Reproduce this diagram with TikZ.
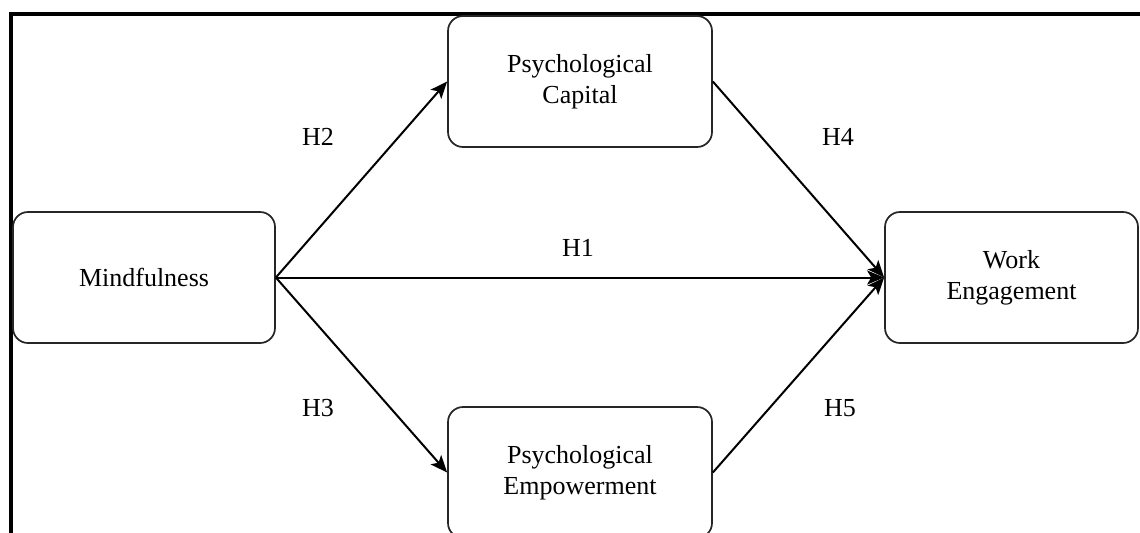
\documentclass[tikz,border=0pt]{standalone}
\usepackage{fontspec}
\setmainfont{Liberation Serif}
\usetikzlibrary{arrows.meta}
\tikzset{
  box/.style={draw=black!85, line width=0.85pt, rounded corners=7.5pt, align=center,
    font=\fontsize{13pt}{15.5pt}\selectfont, inner sep=0pt},
  conn/.style={draw=black, line width=1pt, -{Stealth[length=8.5pt,width=7pt,inset=2pt]}},
  hyp/.style={font=\fontsize{13pt}{15.5pt}\selectfont, inner sep=0pt},
  frame/.style={line width=1.6pt}
}
\begin{document}
\begin{tikzpicture}[x=0.5pt,y=-0.5pt]
\useasboundingbox (0,0) rectangle (1140,532);
\clip (0,0) rectangle (1140,532);
\fill[white] (0,0) rectangle (1140,532);
\coordinate (fb) at (11,540);
\coordinate (fc) at (11,14);
\coordinate (fr) at (1145,14);
\draw[frame] (fb) -- (fc) -- (fr);
\node[box, minimum width=131pt, minimum height=65.5pt] (mind) at (144,277.5) {Mindfulness};
\node[box, minimum width=132pt, minimum height=65.5pt] (cap) at (580,81.5) {Psychological\\Capital};
\node[box, minimum width=132pt, minimum height=65.5pt] (emp) at (580,472.5) {Psychological\\Empowerment};
\node[box, minimum width=126.5pt, minimum height=65.5pt] (work) at (1011.5,277.5) {Work\\Engagement};
\draw[conn] (mind.east) -- (cap.west);
\draw[conn] (mind.east) -- (emp.west);
\draw[conn] (mind.east) -- (work.west);
\draw[conn] (cap.east) -- (work.west);
\draw[conn] (emp.east) -- (work.west);
\node[hyp] (h2) at (318,137) {H2};
\node[hyp] (h4) at (838,137) {H4};
\node[hyp] (h1) at (578,248) {H1};
\node[hyp] (h3) at (318,408) {H3};
\node[hyp] (h5) at (840,408) {H5};
\end{tikzpicture}
\end{document}
